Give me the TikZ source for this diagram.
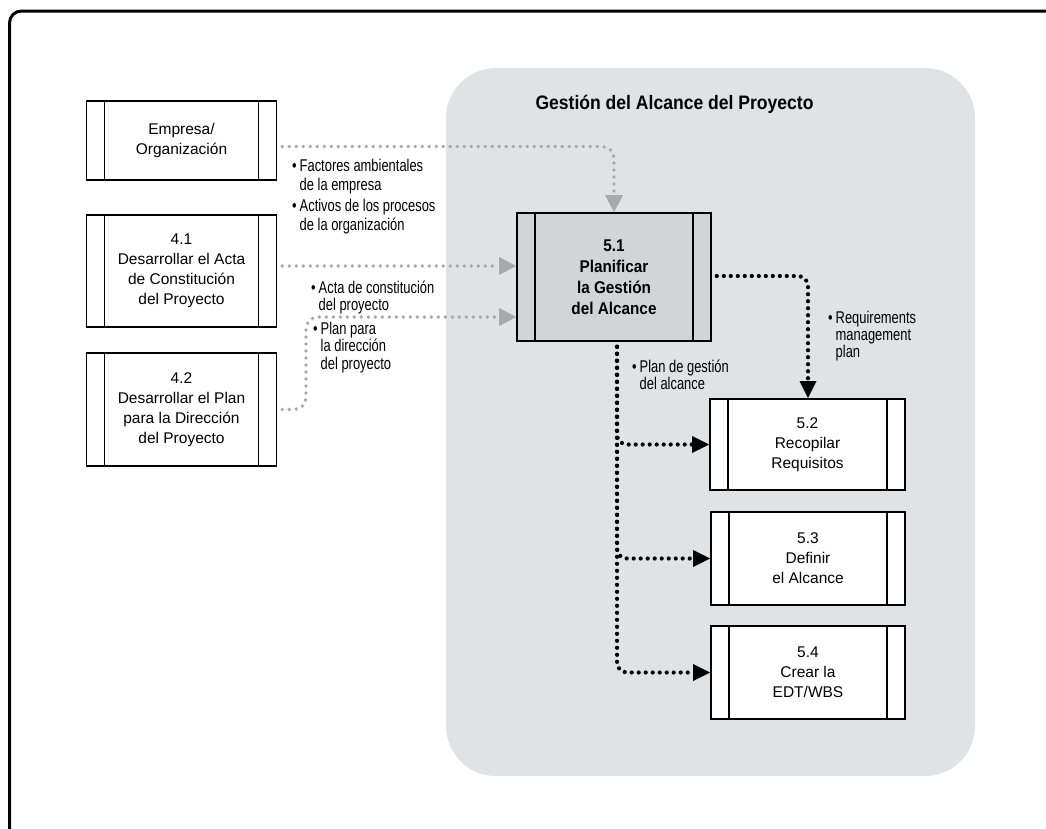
\documentclass[tikz,border=0pt]{standalone}
\usepackage{fontspec}
\setmainfont{Liberation Sans}
\newfontfamily\lblfont[FakeStretch=0.76]{Liberation Sans}
\newfontfamily\ttlfont[FakeStretch=0.9]{Liberation Sans}
\usetikzlibrary{arrows.meta}
\definecolor{regiongray}{HTML}{E1E2E4}
\definecolor{procgray}{HTML}{D3D4D6}
\definecolor{arrgray}{HTML}{A8A9AC}
\newcommand{\bl}{\makebox[7.5pt][l]{\textbullet}}
\newcommand{\ind}{\hspace*{7.5pt}}
\tikzset{
  procbox/.style={draw, line width=1.6pt, fill=white, inner sep=0pt, align=center,
    minimum width=190pt, font=\fontsize{15.5}{20}\selectfont,
    path picture={
      \draw[line width=1.6pt] ([xshift=18pt]path picture bounding box.north west) -- ([xshift=18pt]path picture bounding box.south west);
      \draw[line width=1.6pt] ([xshift=-18pt]path picture bounding box.north east) -- ([xshift=-18pt]path picture bounding box.south east);
    }},
  mainbox/.style={procbox, fill=procgray, minimum width=194pt, font=\ttlfont\bfseries\fontsize{17}{21}\selectfont},
  blackflow/.style={draw=black, line width=4.2pt, line cap=round, dash pattern=on 0pt off 7pt,
    rounded corners=10pt, -{Triangle[length=17pt,width=17pt,line width=0pt]}},
  grayflow/.style={draw=arrgray, line width=3.8pt, line cap=round, dash pattern=on 0pt off 7pt,
    rounded corners=12pt, -{Triangle[length=17pt,width=18pt,line width=0pt]}},
  lbl/.style={anchor=base west, inner sep=0pt, align=left, font=\lblfont\fontsize{17}{19}\selectfont},
}
\begin{document}
\begin{tikzpicture}[x=1pt,y=-1pt]
\useasboundingbox (0,0) rectangle (1046,828);
\clip (0,0) rectangle (1046,828);
% outer frame
\draw[line width=3pt, rounded corners=12pt] (9.5,11) rectangle (1075,860);
% scope region
\fill[regiongray, rounded corners=50pt] (446,68) rectangle (975,776);
\node[anchor=base, font=\ttlfont\bfseries\fontsize{19.5}{22}\selectfont] (title) at (674.5,109) {Gestión del Alcance del Proyecto};

% process boxes
\node[procbox, minimum height=79pt] (emp) at (181.5,140.5) {Empresa/\\Organización};
\node[procbox, minimum height=112pt] (a41) at (181.5,271) {4.1\\Desarrollar el Acta\\de Constitución\\del Proyecto};
\node[procbox, minimum height=113pt] (a42) at (181.5,409.5) {4.2\\Desarrollar el Plan\\para la Dirección\\del Proyecto};
\node[mainbox, minimum height=128pt] (p51) at (614,277) {5.1\\Planificar\\la Gestión\\del Alcance};
\node[procbox, minimum width=195pt, minimum height=91pt] (p52) at (807.5,444.5) {5.2\\Recopilar\\Requisitos};
\node[procbox, minimum width=194pt, minimum height=93pt] (p53) at (808,558.5) {5.3\\Definir\\el Alcance};
\node[procbox, minimum width=194pt, minimum height=93pt] (p54) at (808,672.5) {5.4\\Crear la\\EDT/WBS};

% gray input flows
\draw[grayflow, shorten <=5pt] ([yshift=-6pt]emp.east) -| (p51.north);
\draw[grayflow, shorten <=5pt] ([yshift=5pt]a41.east) -- ([yshift=5pt]a41.east -| p51.west);
\coordinate (g3) at (306,317);
\draw[grayflow, shorten <=5pt] (a42.east) -| (g3) -- (g3 -| p51.west);

% black output flows
\draw[blackflow, shorten <=5pt] ([yshift=1pt]p51.east) -| ([xshift=0.5pt]p52.north);
\draw[blackflow, shorten <=5pt] ([xshift=3pt]p51.south) |- (p52.west);
\draw[blackflow, shorten <=5pt] ([xshift=3pt]p51.south) |- (p53.west);
\draw[blackflow, shorten <=5pt] ([xshift=3pt]p51.south) |- (p54.west);

% labels (base anchor = baseline of last line)
\node[lbl] (l1) at (292,230) {\bl Factores ambientales\\\ind de la empresa\\[2pt]\bl Activos de los procesos\\\ind de la organización};
\node[lbl, font=\lblfont\fontsize{17}{17}\selectfont] (l2) at (311,310) {\bl Acta de constitución\\\ind del proyecto};
\node[lbl, font=\lblfont\fontsize{17}{17.5}\selectfont] (l3) at (313,369) {\bl Plan para\\\ind la dirección\\\ind del proyecto};
\node[lbl, font=\lblfont\fontsize{17}{17}\selectfont] (l4) at (632,389) {\bl Plan de gestión\\\ind del alcance};
\node[lbl, font=\lblfont\fontsize{17}{17}\selectfont] (l5) at (828,357) {\bl Requirements\\\ind management\\\ind plan};
\end{tikzpicture}
\end{document}
